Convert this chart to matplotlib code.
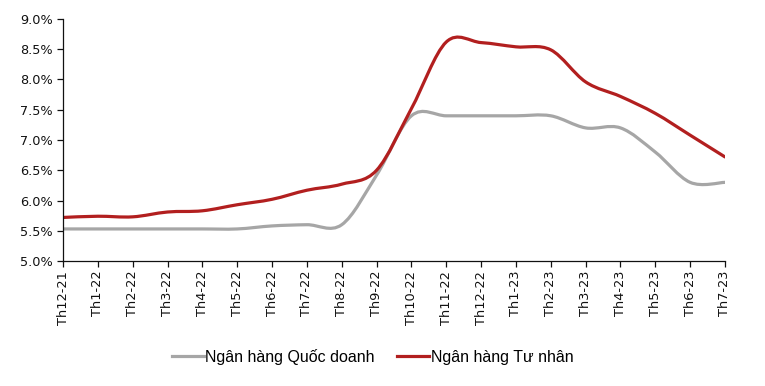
import matplotlib
matplotlib.use('Agg')
import matplotlib.pyplot as plt
import numpy as np
from matplotlib.path import Path
from matplotlib.patches import PathPatch
from matplotlib.lines import Line2D
from matplotlib.ticker import FuncFormatter

thang = ['Th12-21', 'Th1-22', 'Th2-22', 'Th3-22', 'Th4-22', 'Th5-22', 'Th6-22',
         'Th7-22', 'Th8-22', 'Th9-22', 'Th10-22', 'Th11-22', 'Th12-22', 'Th1-23',
         'Th2-23', 'Th3-23', 'Th4-23', 'Th5-23', 'Th6-23', 'Th7-23']
quoc_doanh = [5.53, 5.53, 5.53, 5.53, 5.53, 5.53, 5.58, 5.60, 5.60, 6.42,
              7.40, 7.40, 7.40, 7.40, 7.40, 7.20, 7.20, 6.80, 6.30, 6.30]
tu_nhan = [5.72, 5.74, 5.73, 5.81, 5.83, 5.93, 6.02, 6.17, 6.27, 6.50,
           7.52, 8.62, 8.61, 8.54, 8.49, 7.96, 7.72, 7.44, 7.08, 6.72]


def smooth_path(xs, ys):
    # bezier qua tung diem (giong duong "smoothed" cua Excel)
    p = np.column_stack([xs, ys]).astype(float)
    pp = np.vstack([p[0], p, p[-1]])
    verts = [p[0]]
    codes = [Path.MOVETO]
    for i in range(len(p) - 1):
        c1 = pp[i + 1] + (pp[i + 2] - pp[i]) / 6
        c2 = pp[i + 2] - (pp[i + 3] - pp[i + 1]) / 6
        verts += [c1, c2, pp[i + 2]]
        codes += [Path.CURVE4] * 3
    return Path(verts, codes)


fig = plt.figure(figsize=(7.65, 3.86), dpi=100)
ax = fig.add_axes([0.0824, 0.3238, 0.8653, 0.627])

x = np.arange(len(thang))
mau_xam = '#A6A6A6'
mau_do = '#B21F1F'

ax.add_patch(PathPatch(smooth_path(x, quoc_doanh), fill=False, edgecolor=mau_xam,
                       lw=2.3, capstyle='round', joinstyle='round'))
ax.add_patch(PathPatch(smooth_path(x, tu_nhan), fill=False, edgecolor=mau_do,
                       lw=2.3, capstyle='round', joinstyle='round'))

ax.set_xlim(0, len(thang) - 1)
ax.set_ylim(5.0, 9.0)
ax.set_yticks(np.arange(5.0, 9.01, 0.5))
ax.yaxis.set_major_formatter(FuncFormatter(lambda v, _: f'{v:.1f}%'))
ax.set_xticks(x)
ax.set_xticklabels(thang, rotation=90)

for s in ['top', 'right']:
    ax.spines[s].set_visible(False)
for s in ['left', 'bottom']:
    ax.spines[s].set_linewidth(0.9)
    ax.spines[s].set_color('#111111')
ax.tick_params(axis='both', direction='out', length=4, width=0.9, color='#111111',
               labelsize=9.3, labelcolor='#111111')
ax.tick_params(axis='x', pad=3)

handles = [Line2D([], [], color=mau_xam, lw=2.3),
           Line2D([], [], color=mau_do, lw=2.3)]
fig.legend(handles, ['Ngân hàng Quốc doanh', 'Ngân hàng Tư nhân'], loc='center',
           bbox_to_anchor=(0.487, 0.075), ncol=2, frameon=False, handlelength=2.0,
           handletextpad=0.1, columnspacing=1.4,
           prop={'family': 'Liberation Sans', 'size': 11.5})

fig.savefig('out.png', dpi=100)
